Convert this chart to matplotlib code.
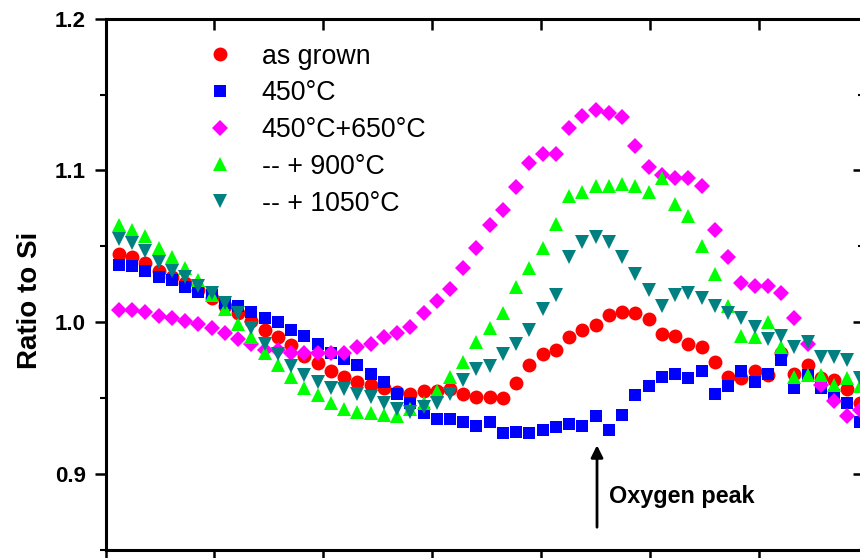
import matplotlib
matplotlib.use("Agg")
import matplotlib.pyplot as plt
import numpy as np
from matplotlib.ticker import MultipleLocator

plt.rcParams["font.family"] = ["Liberation Sans", "DejaVu Sans"]

# depth grid of the profile (nm), 57 evenly spaced channels
depth = 6.2 + 6.08 * np.arange(57)

as_grown = [1.045, 1.043, 1.039, 1.034, 1.030, 1.026, 1.021, 1.016, 1.011, 1.006,
            1.001, 0.995, 0.990, 0.985, 0.978, 0.973, 0.968, 0.964, 0.961, 0.959,
            0.957, 0.954, 0.953, 0.955, 0.955, 0.956, 0.953, 0.951, 0.951, 0.950,
            0.960, 0.972, 0.979, 0.982, 0.990, 0.995, 0.998, 1.005, 1.007, 1.006,
            1.002, 0.992, 0.991, 0.986, 0.984, 0.974, 0.964, 0.963, 0.968, 0.965,
            0.980, 0.966, 0.972, 0.963, 0.962, 0.956, 0.947]
t450 = [1.038, 1.037, 1.034, 1.030, 1.028, 1.023, 1.020, 1.018, 1.013, 1.011,
        1.007, 1.003, 1.000, 0.995, 0.991, 0.986, 0.980, 0.976, 0.972, 0.966,
        0.961, 0.953, 0.947, 0.940, 0.936, 0.936, 0.934, 0.932, 0.934, 0.927,
        0.928, 0.927, 0.929, 0.931, 0.933, 0.932, 0.938, 0.929, 0.939, 0.952,
        0.958, 0.964, 0.966, 0.963, 0.968, 0.953, 0.958, 0.968, 0.961, 0.966,
        0.975, 0.957, 0.965, 0.957, 0.952, 0.947, 0.934]
t450_650 = [1.008, 1.008, 1.007, 1.004, 1.003, 1.001, 0.999, 0.996, 0.993, 0.989,
            0.986, 0.982, 0.982, 0.980, 0.980, 0.980, 0.980, 0.980, 0.984, 0.986,
            0.990, 0.993, 0.997, 1.006, 1.014, 1.022, 1.036, 1.049, 1.064, 1.074,
            1.089, 1.105, 1.111, 1.111, 1.128, 1.136, 1.140, 1.138, 1.135, 1.116,
            1.102, 1.097, 1.095, 1.095, 1.090, 1.061, 1.043, 1.026, 1.024, 1.024,
            1.019, 1.003, 0.986, 0.959, 0.948, 0.938, 0.942]
t900 = [1.064, 1.061, 1.057, 1.049, 1.043, 1.036, 1.028, 1.018, 1.009, 0.999,
        0.990, 0.980, 0.972, 0.964, 0.957, 0.952, 0.947, 0.943, 0.941, 0.940,
        0.939, 0.938, 0.943, 0.947, 0.955, 0.964, 0.974, 0.987, 0.996, 1.006,
        1.023, 1.036, 1.049, 1.065, 1.083, 1.086, 1.090, 1.090, 1.091, 1.090,
        1.086, 1.095, 1.078, 1.070, 1.050, 1.032, 1.011, 0.991, 0.990, 1.000,
        0.984, 0.964, 0.965, 0.965, 0.959, 0.963, 0.958]
t1050 = [1.055, 1.052, 1.047, 1.040, 1.034, 1.030, 1.024, 1.019, 1.013, 1.006,
         0.996, 0.986, 0.979, 0.971, 0.965, 0.961, 0.957, 0.956, 0.953, 0.951,
         0.947, 0.943, 0.941, 0.944, 0.947, 0.953, 0.962, 0.969, 0.971, 0.979,
         0.986, 0.995, 1.009, 1.018, 1.043, 1.053, 1.056, 1.053, 1.043, 1.032,
         1.021, 1.011, 1.018, 1.019, 1.016, 1.011, 1.006, 1.003, 0.997, 0.989,
         0.991, 0.984, 0.987, 0.977, 0.977, 0.975, 0.963]

labels = ["as grown", "450°C", "450°C+650°C", "-- + 900°C", "-- + 1050°C"]
series = [as_grown, t450, t450_650, t900, t1050]
markers = ["o", "s", "D", "^", "v"]
sizes = [10, 8.8, 8.4, 10.5, 10.5]
colors = ["#ff0000", "#0000ff", "#ff00ff", "#00ff00", "#008080"]
zorders = [3, 4, 5, 6, 7]

oxygen_peak_x = 225.7

fig = plt.figure(figsize=(8.6, 5.58), dpi=100)
ax = fig.add_axes([105.5 / 860, 8 / 558, 758.5 / 860, 531.3 / 558])

for ys, lab, m, ms, c, z in zip(series, labels, markers, sizes, colors, zorders):
    ax.plot(depth, ys, linestyle="none", marker=m, markersize=ms, color=c,
            markeredgewidth=0, label=lab, zorder=z)

ax.set_xlim(0, 348.3)
ax.set_ylim(0.85, 1.2)
ax.xaxis.set_major_locator(MultipleLocator(50))
ax.yaxis.set_major_locator(MultipleLocator(0.1))
ax.yaxis.set_minor_locator(MultipleLocator(0.05))
ax.yaxis.set_major_formatter(matplotlib.ticker.FormatStrFormatter("%.1f"))

for s in ax.spines.values():
    s.set_linewidth(2.2)
ax.tick_params(axis="y", which="major", direction="out", length=8, width=1.8,
               labelsize=16, pad=6)
ax.tick_params(axis="y", which="minor", direction="out", length=4, width=1.5)
ax.tick_params(axis="y", which="both", right=True)
ax.tick_params(axis="x", which="major", direction="out", length=8, width=1.8,
               top=True, labelbottom=False)
# mirrored ticks on the top/right edges point inward
for t in ax.yaxis.get_major_ticks() + ax.yaxis.get_minor_ticks():
    t.tick2line.set_marker(matplotlib.lines.TICKLEFT)
for t in ax.xaxis.get_major_ticks():
    t.tick2line.set_marker(matplotlib.lines.TICKDOWN)
for lab in ax.get_yticklabels():
    lab.set_fontweight("bold")

ax.set_ylabel("Ratio to Si", fontsize=20, fontweight="bold")
ax.yaxis.set_label_coords(-0.083, 0.469)

leg = ax.legend(loc="upper left", bbox_to_anchor=(0.133, 0.953), frameon=False,
                fontsize=19.3, numpoints=1, handlelength=1.0, handletextpad=1.07,
                labelspacing=0.40, borderpad=0, borderaxespad=0)

ax.annotate("", xy=(oxygen_peak_x, 0.919), xytext=(oxygen_peak_x, 0.865),
            arrowprops=dict(arrowstyle="-|>", color="black", lw=2,
                            mutation_scale=18, shrinkA=0, shrinkB=0))
ax.text(oxygen_peak_x + 5.5, 0.8855, "Oxygen peak", fontsize=16.8,
        fontweight="bold", ha="left", va="center")

fig.savefig("out.png", dpi=100)
